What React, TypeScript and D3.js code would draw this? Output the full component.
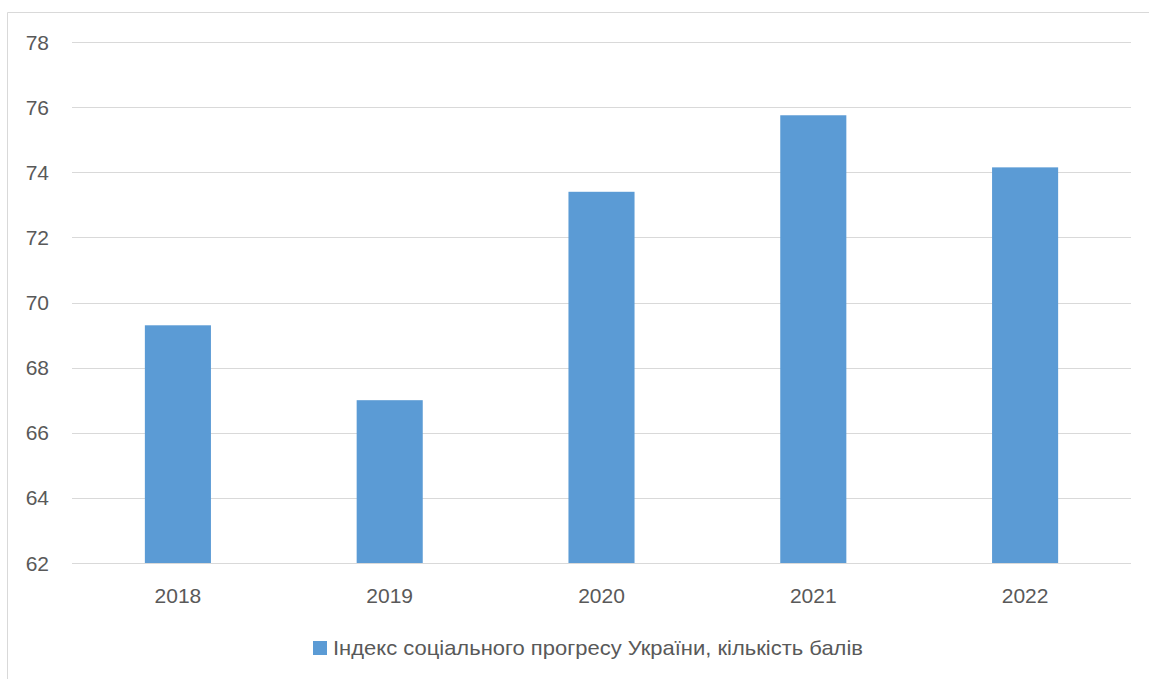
import React from "react";
import * as d3 from "d3";

const categories = ["2018", "2019", "2020", "2021", "2022"];
const values = [69.3, 67.0, 73.4, 75.75, 74.15];
const yTicks = [62, 64, 66, 68, 70, 72, 74, 76, 78];
const seriesName = "Індекс соціального прогресу України, кількість балів";

const W = 1149;
const H = 679;
const plot = { left: 72, right: 1131, top: 42, bottom: 563 };
const textColor = "#595959";
const gridColor = "#d9d9d9";
const barColor = "#5b9bd5";
const font = "'Liberation Sans', Arial, sans-serif";

export default function App() {
  const x = d3.scaleBand<string>().domain(categories).range([plot.left, plot.right]).padding(0);
  const y = d3.scaleLinear().domain([62, 78]).range([plot.bottom, plot.top]);
  const bw = x.bandwidth() * 0.312;

  return (
    <svg
      width={W}
      height={H}
      style={{ position: "fixed", left: 0, top: 0, background: "#fff" }}
      fontFamily={font}
    >
      <rect x={0} y={0} width={W} height={H} fill="#fff" />
      {/* chart border (cropped) */}
      <line x1={7.5} x2={W} y1={12.5} y2={12.5} stroke={gridColor} strokeWidth={1} />
      <line x1={7.5} x2={7.5} y1={12.5} y2={H} stroke={gridColor} strokeWidth={1} />
      {yTicks.map((t) => (
        <g key={t}>
          <line
            x1={plot.left}
            x2={plot.right}
            y1={Math.round(y(t)) + 0.5}
            y2={Math.round(y(t)) + 0.5}
            stroke={gridColor}
            strokeWidth={1.2}
          />
          <text x={49} y={y(t) + 7.5} textAnchor="end" fontSize={21} fill={textColor}>
            {t}
          </text>
        </g>
      ))}
      {categories.map((c, i) => {
        const cx = (x(c) as number) + x.bandwidth() / 2;
        return (
          <g key={c}>
            <rect
              x={cx - bw / 2}
              y={y(values[i])}
              width={bw}
              height={y(62) - y(values[i])}
              fill={barColor}
            />
            <text x={cx} y={603} textAnchor="middle" fontSize={21} fill={textColor}>
              {c}
            </text>
          </g>
        );
      })}
      <rect x={313} y={641} width={14} height={14} fill={barColor} />
      <text x={333} y={655} fontSize={21} fill={textColor} textLength={530} lengthAdjust="spacingAndGlyphs">
        {seriesName}
      </text>
    </svg>
  );
}
